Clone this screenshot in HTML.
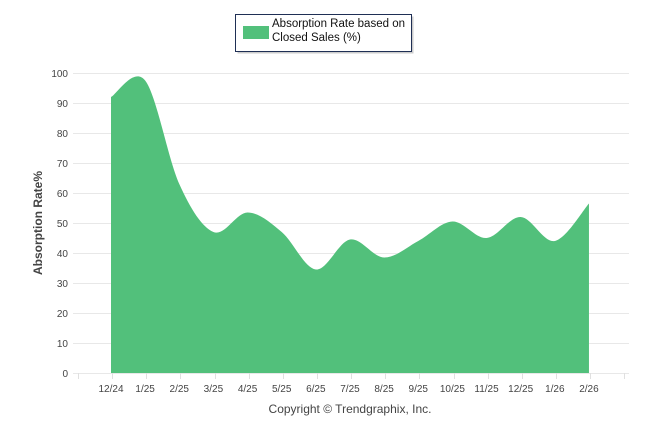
<!DOCTYPE html>
<html><head><meta charset="utf-8"><style>
html,body{margin:0;padding:0;background:#fff;}
svg{display:block;font-family:"Liberation Sans",Arial,sans-serif;}
</style></head><body>
<svg width="646" height="434" viewBox="0 0 646 434">
<g stroke="#e8e8e8" stroke-width="1">
<line x1="73" y1="73.5" x2="629" y2="73.5"/>
<line x1="73" y1="103.5" x2="629" y2="103.5"/>
<line x1="73" y1="133.5" x2="629" y2="133.5"/>
<line x1="73" y1="163.5" x2="629" y2="163.5"/>
<line x1="73" y1="193.5" x2="629" y2="193.5"/>
<line x1="73" y1="223.5" x2="629" y2="223.5"/>
<line x1="73" y1="253.5" x2="629" y2="253.5"/>
<line x1="73" y1="283.5" x2="629" y2="283.5"/>
<line x1="73" y1="313.5" x2="629" y2="313.5"/>
<line x1="73" y1="343.5" x2="629" y2="343.5"/>
<line x1="73" y1="373.5" x2="629" y2="373.5"/>
</g>
<path id="area" fill="#52c07b" d=""/>
<g stroke="#e0e0e0" stroke-width="1" id="ticks"></g>
<g font-size="10" fill="#444" text-anchor="end">
<text x="68" y="77">100</text><text x="68" y="107">90</text><text x="68" y="137">80</text>
<text x="68" y="167">70</text><text x="68" y="197">60</text><text x="68" y="227">50</text>
<text x="68" y="257">40</text><text x="68" y="287">30</text><text x="68" y="317">20</text>
<text x="68" y="347">10</text><text x="68" y="377">0</text>
</g>
<g font-size="10" fill="#444" text-anchor="middle" id="xl"></g>
<text transform="translate(42,223) rotate(-90)" font-size="12" font-weight="bold" fill="#444" text-anchor="middle">Absorption Rate%</text>
<text x="350" y="413" font-size="12" fill="#444" text-anchor="middle">Copyright © Trendgraphix, Inc.</text>
<rect x="235.5" y="14.5" width="176" height="37" fill="#999" opacity="0.5" transform="translate(2,2)"/>
<rect x="235.5" y="14.5" width="176" height="37" fill="#fff" stroke="#1f2f55" stroke-width="1"/>
<rect x="243" y="26" width="26" height="13" fill="#52c07b"/>
<text x="272" y="27" font-size="11.5" fill="#111">Absorption Rate based on</text>
<text x="272" y="41" font-size="11.5" fill="#111">Closed Sales (%)</text>
</svg>
<script>
var v=[92,97.5,63,47,53.5,47,34.5,44.5,38.5,44,50.5,45,52,44,56.5];
var labs=["12/24","1/25","2/25","3/25","4/25","5/25","6/25","7/25","8/25","9/25","10/25","11/25","12/25","1/26","2/26"];
var dx=34.14,x0=111;
var P=v.map(function(y,i){return[x0+dx*i,373-3*y];});
var d="M"+P[0][0]+",373 L"+P[0][0]+","+P[0][1];
for(var i=0;i<P.length-1;i++){
 var p0=P[i-1]||P[i],p1=P[i],p2=P[i+1],p3=P[i+2]||P[i+1];
 var c1=[p1[0]+(p2[0]-p0[0])/6,p1[1]+(p2[1]-p0[1])/6];
 var c2=[p2[0]-(p3[0]-p1[0])/6,p2[1]-(p3[1]-p1[1])/6];
 d+=" C"+c1+" "+c2+" "+p2;
}
d+=" L"+P[P.length-1][0]+",373 Z";
document.getElementById("area").setAttribute("d",d);
var xl=document.getElementById("xl"),tk=document.getElementById("ticks"),ns="http://www.w3.org/2000/svg";
labs.forEach(function(l,i){var t=document.createElementNS(ns,"text");t.setAttribute("x",x0+dx*i);t.setAttribute("y",392);t.textContent=l;xl.appendChild(t);});
for(var i=0;i<17;i++){var x=Math.round(78+dx*i)+0.5;if(x>630)break;var ln=document.createElementNS(ns,"line");ln.setAttribute("x1",x);ln.setAttribute("x2",x);ln.setAttribute("y1",373);ln.setAttribute("y2",379);tk.appendChild(ln);}
</script>
</body></html>
